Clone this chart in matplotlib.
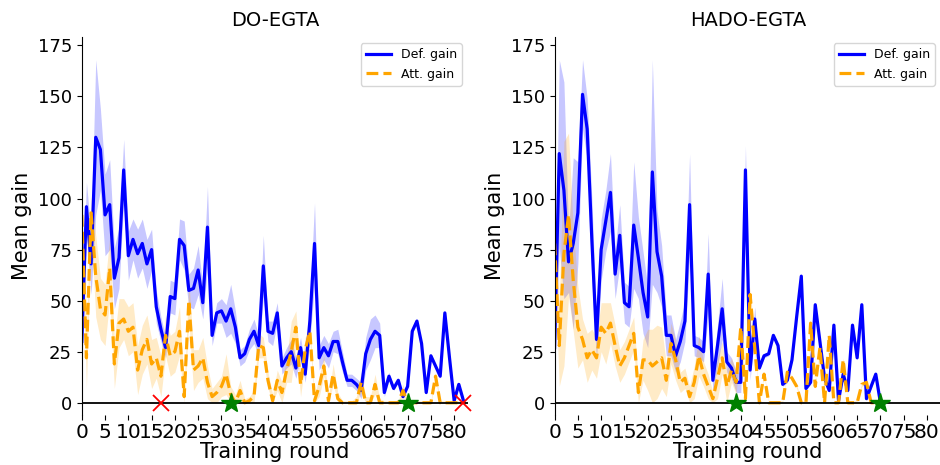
import numpy as np
import matplotlib
matplotlib.use("Agg")
import matplotlib.pyplot as plt

# DO-EGTA
do_def = [30, 96, 68, 130, 124, 92, 97, 61, 71, 114, 72, 80, 73, 78, 68, 75, 47, 36, 27, 52,
          51, 80, 77, 55, 56, 65, 49, 86, 33, 44, 45, 40, 46, 37, 22, 24, 31, 35, 28, 67,
          35, 34, 44, 18, 22, 25, 17, 27, 14, 40, 78, 22, 27, 23, 30, 30, 20, 11, 11, 9,
          6, 24, 31, 35, 33, 5, 13, 7, 11, 3, 8, 35, 40, 29, 5, 23, 18, 13, 44, 22,
          1, 9, 1]
do_def_sd = [15, 12, 15, 38, 20, 20, 22, 15, 15, 15, 12, 10, 12, 12, 12, 10, 8, 6, 5, 8,
             8, 10, 12, 8, 10, 12, 8, 20, 5, 5, 6, 8, 12, 8, 4, 4, 5, 6, 5, 15,
             5, 6, 5, 4, 5, 6, 5, 5, 4, 10, 20, 6, 6, 6, 5, 6, 5, 3, 3, 3,
             4, 8, 10, 8, 6, 2, 2, 1, 1, 1, 1, 1, 1, 1, 1, 1, 1, 1, 1, 1,
             1, 1, 1]
do_att = [92, 22, 93, 62, 46, 43, 66, 19, 39, 41, 35, 37, 16, 26, 31, 19, 22, 13, 33, 23,
          25, 35, 3, 50, 16, 18, 22, 10, 3, 5, 8, 14, 4, 0, 6, 0, 1, 3, 28, 27,
          11, 1, 11, 5, 16, 25, 37, 9, 26, 35, 1, 8, 18, 1, 14, 2, 0, 0, 0, 0,
          10, 0, 0, 9, 0, 0, 0, 0, 0, 6, 0, 0, 0, 0, 0, 0, 13, 0, 0, 0,
          0, 0, 0]
do_att_sd = [5, 15, 8, 20, 15, 15, 15, 12, 12, 10, 12, 12, 12, 12, 12, 12, 10, 10, 10, 10,
             10, 12, 4, 10, 10, 8, 10, 8, 4, 5, 5, 10, 4, 4, 5, 2, 2, 3, 6, 5,
             4, 3, 5, 5, 6, 15, 8, 6, 6, 5, 2, 5, 5, 2, 5, 3, 1, 1, 1, 3,
             5, 3, 3, 5, 2, 1, 1, 1, 1, 3, 1, 1, 1, 1, 1, 1, 2, 1, 1, 1,
             1, 1, 1]
do_cross = [17, 82]
do_star = [32, 70]

# HADO-EGTA
hado_def = [27, 122, 104, 69, 78, 93, 151, 134, 80, 31, 75, 89, 103, 63, 82, 49, 47, 87, 71, 54,
            42, 113, 74, 62, 33, 33, 23, 30, 40, 97, 28, 27, 25, 63, 11, 28, 46, 20, 17, 10,
            10, 114, 16, 41, 17, 23, 24, 33, 28, 9, 11, 21, 42, 62, 7, 10, 48, 30, 12, 6,
            38, 1, 14, 6, 38, 22, 48, 2, 8, 14, 0]
hado_def_sd = [10, 46, 53, 15, 42, 25, 17, 15, 20, 10, 15, 15, 19, 12, 15, 10, 10, 31, 20, 20,
               15, 55, 20, 15, 10, 10, 8, 10, 10, 25, 5, 5, 5, 20, 5, 10, 15, 5, 5, 5,
               5, 12, 5, 6, 1, 1, 1, 1, 1, 1, 1, 1, 1, 1, 1, 1, 1, 1, 1, 1,
               1, 1, 1, 1, 1, 1, 1, 1, 1, 1, 0]
hado_att = [78, 28, 73, 92, 60, 37, 31, 22, 26, 22, 37, 34, 39, 28, 18, 22, 28, 34, 5, 21,
            21, 18, 20, 22, 11, 29, 21, 10, 12, 3, 10, 23, 14, 8, 2, 12, 22, 8, 16, 10,
            37, 2, 53, 27, 0, 14, 0, 0, 0, 0, 15, 12, 8, 0, 0, 39, 8, 27, 0, 33,
            0, 0, 21, 0, 0, 0, 9, 10, 0, 0, 0]
hado_att_sd = [10, 20, 55, 40, 25, 20, 10, 12, 10, 10, 12, 15, 10, 10, 8, 8, 8, 8, 5, 10,
               15, 18, 18, 15, 8, 10, 10, 5, 5, 5, 8, 10, 6, 6, 3, 10, 8, 8, 6, 6,
               6, 2, 4, 2, 1, 1, 1, 1, 1, 1, 1, 1, 1, 1, 1, 1, 1, 1, 1, 1,
               1, 1, 1, 1, 1, 1, 1, 1, 1, 1, 0]
hado_cross = []
hado_star = [39, 70]

fig = plt.figure(figsize=(9.4, 4.65), dpi=100)
ax1 = fig.add_axes([0.087, 0.1075, 0.411, 0.8125])
ax2 = fig.add_axes([0.590, 0.1075, 0.411, 0.8125])


def panel(ax, title, d, dsd, a, asd, cross, star):
    d = np.array(d, float)
    a = np.array(a, float)
    dsd = np.array(dsd, float)
    asd = np.array(asd, float)
    x = np.arange(len(d))
    ax.fill_between(x, np.clip(d - dsd, 0, None), d + dsd, color="blue", alpha=0.22, lw=0)
    ax.fill_between(x, np.clip(a - asd, 0, None), a + asd, color="orange", alpha=0.22, lw=0)
    ax.plot(x, d, color="blue", lw=2.3, label="Def. gain")
    ax.plot(x, a, color="orange", lw=2.3, ls="--", label="Att. gain")
    ax.axhline(0, color="black", lw=1.3, zorder=3)
    if cross:
        ax.plot(cross, [0] * len(cross), "x", color="red", ms=11, mew=1.3,
                clip_on=False, zorder=5)
    ax.plot(star, [0] * len(star), "*", color="green", ms=15, clip_on=False, zorder=6)
    ax.set_xlim(0, 83)
    ax.set_ylim(-6, 179)
    ax.set_xticks(range(0, 85, 5))
    ax.set_yticks(range(0, 176, 25))
    ax.tick_params(axis="y", labelsize=13)
    ax.tick_params(axis="x", labelsize=14.5, pad=2)
    for s in ["top", "right", "bottom"]:
        ax.spines[s].set_visible(False)
    ax.set_title(title, fontsize=14, pad=8)
    ax.set_xlabel("Training round", fontsize=15, labelpad=0)
    ax.set_ylabel("Mean gain", fontsize=15)
    ax.legend(loc="upper right", fontsize=9)


panel(ax1, "DO-EGTA", do_def, do_def_sd, do_att, do_att_sd, do_cross, do_star)
panel(ax2, "HADO-EGTA", hado_def, hado_def_sd, hado_att, hado_att_sd, hado_cross, hado_star)

fig.savefig("out.png", dpi=100)
